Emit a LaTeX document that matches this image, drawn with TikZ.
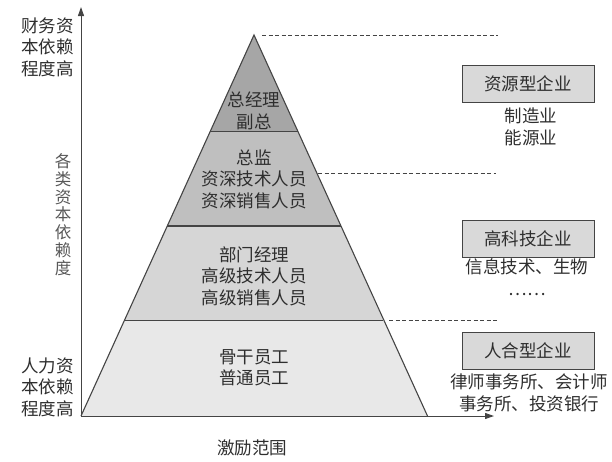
\documentclass[tikz,border=0pt]{standalone}
\usepackage{fontspec}
\newfontfamily\cjk{Noto Sans CJK SC}
\usetikzlibrary{arrows.meta}
\definecolor{txt}{HTML}{2E2E2E}
\definecolor{edge}{HTML}{444444}
\definecolor{layA}{HTML}{A6A6A6}
\definecolor{layB}{HTML}{BFBFBF}
\definecolor{layC}{HTML}{D6D6D6}
\definecolor{layD}{HTML}{E8E8E8}
\definecolor{boxfill}{HTML}{D9D9D9}
\tikzset{
  lbl/.style={font=\cjk\fontsize{17.5pt}{21.5pt}\selectfont, text=txt, align=center, inner sep=0pt},
  layer/.style={draw=edge, line width=1.1pt},
  guide/.style={draw=edge, line width=0.8pt, dash pattern=on 4pt off 2.5pt},
  entbox/.style={draw=edge, line width=1pt, fill=boxfill, minimum width=132pt, minimum height=37pt, font=\cjk\fontsize{17.5pt}{21.5pt}\selectfont, text=txt, inner sep=0pt},
  axisline/.style={draw=edge, line width=1pt, -{Triangle[length=9pt,width=6pt]}}
}
\begin{document}
\begin{tikzpicture}[x=1pt,y=-1pt]
\useasboundingbox (0,0) rectangle (612,461);
% pyramid corners
\coordinate (apex) at (254,35);
\coordinate (l1) at (210.1,131.7); \coordinate (r1) at (297.9,131.7);
\coordinate (l2) at (167.3,226);   \coordinate (r2) at (340.7,226);
\coordinate (l3) at (124.6,320.5); \coordinate (r3) at (383.4,320.5);
\coordinate (l4) at (81,416);      \coordinate (r4) at (427.5,416);
\fill[layD] (l3) -- (r3) -- (r4) -- (l4) -- cycle;
\fill[layC] (l2) -- (r2) -- (r3) -- (l3) -- cycle;
\fill[layB] (l1) -- (r1) -- (r2) -- (l2) -- cycle;
\fill[layA] (apex) -- (r1) -- (l1) -- cycle;
\draw[layer] (l4) -- (apex) -- (r4);
\draw[layer] (l1) -- (r1);
\draw[layer] (l2) -- (r2);
\draw[layer] (l3) -- (r3);
% axes
\coordinate (origin) at (81,416);
\coordinate (ytip) at (81,7);
\coordinate (xtip) at (494,416);
\draw[axisline] (origin) -- (ytip);
\draw[axisline] (origin) -- (xtip);
% dashed lines
\coordinate (d1a) at (262,35);    \coordinate (d1b) at (498,35);
\coordinate (d2a) at (318,173.5); \coordinate (d2b) at (496,173.5);
\coordinate (d3a) at (389,320.5); \coordinate (d3b) at (497,320.5);
\draw[guide] (d1a) -- (d1b);
\draw[guide] (d2a) -- (d2b);
\draw[guide] (d3a) -- (d3b);
% pyramid texts
\node[lbl] (t1) at (254,111) {总经理\\副总};
\node[lbl] (t2) at (254,179) {总监\\资深技术人员\\资深销售人员};
\node[lbl] (t3) at (254,276) {部门经理\\高级技术人员\\高级销售人员};
\node[lbl] (t4) at (254,368) {骨干员工\\普通员工};
% left axis labels
\node[lbl, anchor=east] (top) at (74,47) {财务资\\本依赖\\程度高};
\node[lbl, anchor=east] (bot) at (74,387) {人力资\\本依赖\\程度高};
\node[lbl, font=\cjk\fontsize{16.5pt}{17.8pt}\selectfont, text=txt!80] (vert) at (63,214.5) {各\\类\\资\\本\\依\\赖\\度};
\node[lbl] (xlab) at (252,448) {激励范围};
% enterprise boxes
\node[entbox] (b1) at (528,84) {资源型企业};
\node[entbox] (b2) at (528,238.5) {高科技企业};
\node[entbox] (b3) at (528,350.5) {人合型企业};
\node[lbl] (e1) at (531,127) {制造业\\能源业};
\node[lbl] (e2) at (527,277) {信息技术、生物\\……};
\node[lbl] (e3) at (529,393) {律师事务所、会计师\\事务所、投资银行};
\end{tikzpicture}
\end{document}
